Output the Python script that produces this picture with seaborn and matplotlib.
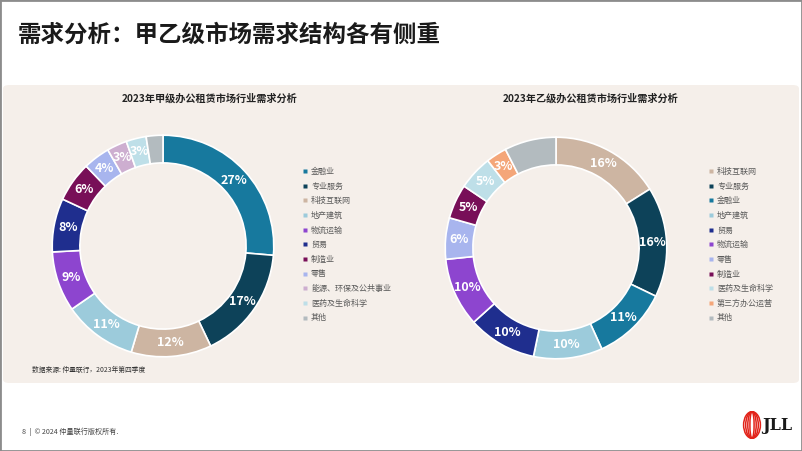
"""Two donut charts: demand structure of Grade A vs Grade B office leasing, 2023."""

import matplotlib
matplotlib.use("Agg")
import matplotlib.pyplot as plt
import seaborn as sns
from matplotlib.lines import Line2D
from matplotlib.patches import FancyBboxPatch, Rectangle, Ellipse

# ---------------------------------------------------------------------------
# Data
# ---------------------------------------------------------------------------
A_SECTORS = ["金融业", "专业服务", "科技互联网", "地产建筑", "物流运输", "贸易",
             "制造业", "零售", "能源、环保及公共事业", "医药及生命科学", "其他"]
A_VALUES = [27, 17, 12, 11, 9, 8, 6, 4, 3, 3, 2.5]
A_LABELS = ["27%", "17%", "12%", "11%", "9%", "8%", "6%", "4%", "3%", "3%", ""]

B_SECTORS = ["科技互联网", "专业服务", "金融业", "地产建筑", "贸易", "物流运输",
             "零售", "制造业", "医药及生命科学", "第三方办公运营", "其他"]
B_VALUES = [16, 16, 11, 10, 10, 10, 6, 5, 5, 3, 7.5]
B_LABELS = ["16%", "16%", "11%", "10%", "10%", "10%", "6%", "5%", "5%", "3%", ""]

SECTOR_COLORS = {
    "金融业": "#17799E",
    "专业服务": "#0D4259",
    "科技互联网": "#CDB5A2",
    "地产建筑": "#9CCBDB",
    "物流运输": "#8D45CF",
    "贸易": "#1F2E8E",
    "制造业": "#780F58",
    "零售": "#A8B5EE",
    "能源、环保及公共事业": "#CDAED0",
    "医药及生命科学": "#BEDFE8",
    "第三方办公运营": "#F4A679",
    "其他": "#B3BBBF",
}

TITLE = "需求分析：甲乙级市场需求结构各有侧重"
A_TITLE = "2023年甲级办公租赁市场行业需求分析"
B_TITLE = "2023年乙级办公租赁市场行业需求分析"
SOURCE = "数据来源: 仲量联行，2023年第四季度"
FOOTER = "8  |  © 2024 仲量联行版权所有."

W, H = 802, 451
PANEL = "#F5EFEA"

sns.set_theme(style="white")
plt.rcParams["font.family"] = ["Noto Sans CJK SC", "DejaVu Sans"]


def px_axes(fig, x0, y0, w, h):
    """Axes from pixel box (top-left origin)."""
    ax = fig.add_axes([x0 / W, 1 - (y0 + h) / H, w / W, h / H])
    ax.set_zorder(2)
    ax.patch.set_alpha(0)
    return ax


def donut(ax, sectors, values, labels):
    colors = sns.color_palette([SECTOR_COLORS[s] for s in sectors])
    wedges, texts = ax.pie(
        values,
        labels=labels,
        colors=colors,
        startangle=90,
        counterclock=False,
        labeldistance=0.875,
        wedgeprops=dict(width=0.25, edgecolor="white", linewidth=1.2),
        textprops=dict(color="white", fontsize=9, fontweight="bold"),
    )
    for t in texts:
        t.set_ha("center")
        t.set_va("center")
    ax.set_xlim(-1.02, 1.02)
    ax.set_ylim(-1.02, 1.02)
    ax.set_aspect("equal")
    ax.axis("off")


def legend(fig, sectors, x, y):
    handles = [
        Line2D([0], [0], marker="s", linestyle="none", markersize=3.0,
               markerfacecolor=SECTOR_COLORS[s], markeredgecolor="none")
        for s in sectors
    ]
    fig.legend(
        handles, sectors,
        loc="upper left",
        bbox_to_anchor=(x / W, 1 - y / H),
        frameon=False,
        fontsize=5.8,
        labelcolor="#5A5A5A",
        handlelength=0.5,
        handletextpad=0.5,
        labelspacing=0.70,
        borderpad=0,
        borderaxespad=0,
    )


fig = plt.figure(figsize=(W / 100, H / 100), dpi=100)
fig.patch.set_facecolor("white")

# beige panel behind the charts
fig.patches.append(FancyBboxPatch(
    (3 / W, 1 - 383 / H), 796 / W, 298 / H,
    boxstyle="round,pad=0,rounding_size=0.008",
    transform=fig.transFigure, facecolor=PANEL, edgecolor="none", zorder=-5,
))
# thin frame around the slide
fig.patches.append(Rectangle(
    (0, 0), 1, 1, transform=fig.transFigure, facecolor="none",
    edgecolor="#8C8C8C", linewidth=2, zorder=10,
))

fig.text(18 / W, 1 - 35 / H, TITLE, fontsize=16.9, fontweight="bold",
         color="#1A1A1A", va="center", ha="left")

fig.text(210 / W, 1 - 99 / H, A_TITLE, fontsize=7.3, fontweight="bold",
         color="#222222", ha="center", va="center")
fig.text(591 / W, 1 - 99 / H, B_TITLE, fontsize=7.3, fontweight="bold",
         color="#222222", ha="center", va="center")

ax_a = px_axes(fig, 50, 133, 226, 226)
donut(ax_a, A_SECTORS, A_VALUES, A_LABELS)
ax_b = px_axes(fig, 443, 135, 226, 226)
donut(ax_b, B_SECTORS, B_VALUES, B_LABELS)

legend(fig, A_SECTORS, 303, 167)
legend(fig, B_SECTORS, 709, 167)

fig.text(32 / W, 1 - 370 / H, SOURCE, fontsize=4.9, color="#333333",
         ha="left", va="center")
fig.text(22 / W, 1 - 432 / H, FOOTER, fontsize=5.1, color="#444444",
         ha="left", va="center")

# JLL logo: nested red ellipses + wordmark
ax_logo = px_axes(fig, 740, 411, 24, 28)
ax_logo.set_xlim(-1, 1)
ax_logo.set_ylim(-1, 1)
ax_logo.axis("off")
for k in range(4):
    ax_logo.add_patch(Ellipse((0, 0), 1.4 - k * 0.35, 1.9, facecolor="none",
                              edgecolor="#E2231A", linewidth=1.1))
fig.text(762 / W, 1 - 425 / H, "JLL", fontsize=11.5, fontweight="bold",
         family="DejaVu Serif", color="#1A1A1A", ha="left", va="center")

fig.savefig("out.png", dpi=100, facecolor=fig.get_facecolor())
